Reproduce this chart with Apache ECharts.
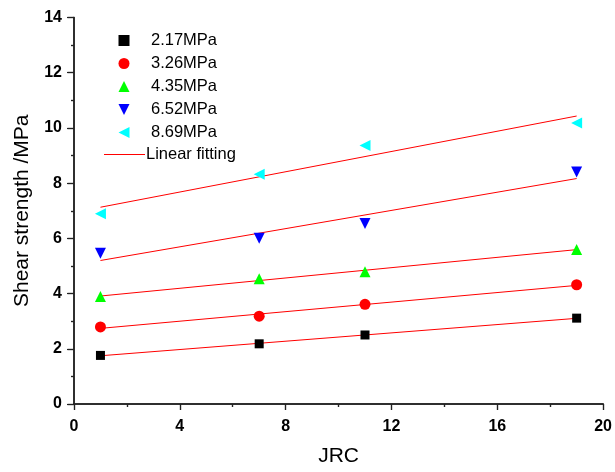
<!DOCTYPE html>
<html>
<head>
<meta charset="utf-8">
<script src="https://cdn.jsdelivr.net/npm/echarts@6/dist/echarts.min.js"></script>
<style>
  html, body { margin: 0; padding: 0; background: #fff; }
  #chart { width: 615px; height: 472px; }
</style>
</head>
<body>
<div id="chart"></div>
<script>
// JRC values tested
const jrc = [1, 7, 11, 19];

// Shear strength (MPa) under each normal stress
const s217 = [1.76, 2.18, 2.50, 3.11];
const s326 = [2.79, 3.18, 3.61, 4.32];
const s435 = [3.89, 4.54, 4.79, 5.60];
const s652 = [5.46, 6.00, 6.54, 8.40];
const s869 = [6.89, 8.32, 9.36, 10.18];

const seriesNames = ['2.17MPa', '3.26MPa', '4.35MPa', '6.52MPa', '8.69MPa'];
const fitName = 'Linear fitting';
const xTicks = [0, 4, 8, 12, 16, 20];
const yTicks = [0, 2, 4, 6, 8, 10, 12, 14];

const groups = [s217, s326, s435, s652, s869];
const markers = [
  { symbol: 'rect', size: 9, rotate: 0, color: '#000000', icon: 'rect' },
  { symbol: 'circle', size: 11, rotate: 0, color: '#ff0000', icon: 'circle' },
  { symbol: 'triangle', size: 11, rotate: 0, color: '#00ff00', icon: 'triangle' },
  { symbol: 'triangle', size: 11, rotate: 180, color: '#0000ff', icon: 'path://M0,0L10,0L5,10Z' },
  { symbol: 'triangle', size: 11, rotate: 90, color: '#00ffff', icon: 'path://M10,0L10,10L0,5Z' }
];

// least-squares line through each group's points
function fitLine(xs, ys) {
  const n = xs.length;
  const mx = xs.reduce((a, b) => a + b, 0) / n;
  const my = ys.reduce((a, b) => a + b, 0) / n;
  let sxy = 0, sxx = 0;
  for (let i = 0; i < n; i++) {
    sxy += (xs[i] - mx) * (ys[i] - my);
    sxx += (xs[i] - mx) * (xs[i] - mx);
  }
  const k = sxy / sxx;
  const b = my - k * mx;
  const x0 = Math.min(...xs), x1 = Math.max(...xs);
  return [[x0, k * x0 + b], [x1, k * x1 + b]];
}

const series = [];
groups.forEach((ys, i) => {
  series.push({
    name: seriesNames[i],
    type: 'scatter',
    symbol: markers[i].symbol,
    symbolSize: markers[i].size,
    symbolRotate: markers[i].rotate,
    itemStyle: { color: markers[i].color, opacity: 1 },
    data: jrc.map((x, j) => [x, ys[j]]),
    z: 3
  });
});
groups.forEach((ys) => {
  series.push({
    name: fitName,
    type: 'line',
    symbol: 'none',
    lineStyle: { color: '#ff0000', width: 1 },
    itemStyle: { color: '#ff0000' },
    data: fitLine(jrc, ys),
    z: 2
  });
});

const fontFamily = 'Liberation Sans, Arial, sans-serif';
const axisColor = '#222';
const tickFont = { color: '#000', fontFamily: fontFamily, fontWeight: 'bold', fontSize: 16 };
const nameFont = { color: '#000', fontFamily: fontFamily, fontSize: 21 };
const legendFont = { color: '#000', fontFamily: fontFamily, fontSize: 16.5, lineHeight: 16 };

const chart = echarts.init(document.getElementById('chart'), null, { renderer: 'canvas' });
chart.setOption({
  animation: false,
  backgroundColor: '#fff',
  grid: { left: 74, right: 11, top: 17.5, bottom: 62.5, containLabel: false },
  legend: [
    {
      data: seriesNames.map((n, i) => ({ name: n, icon: markers[i].icon })),
      orient: 'vertical',
      left: 118.5,
      top: 32,
      itemWidth: 11,
      itemHeight: 11,
      itemGap: 6.0,
      padding: 0,
      textStyle: Object.assign({ padding: [0, 0, 0, 16.5] }, legendFont)
    },
    {
      data: [{ name: fitName, icon: 'rect' }],
      orient: 'vertical',
      left: 104,
      top: 146,
      itemWidth: 41,
      itemHeight: 1,
      padding: 0,
      itemStyle: { color: '#ff0000' },
      textStyle: Object.assign({ padding: [0, 0, 0, -4] }, legendFont)
    }
  ],
  xAxis: [
    {
      type: 'value',
      position: 'bottom',
      min: xTicks[0],
      max: xTicks[xTicks.length - 1],
      interval: 4,
      name: 'JRC',
      nameLocation: 'middle',
      nameGap: 42,
      nameTextStyle: nameFont,
      axisLine: { show: true, lineStyle: { color: axisColor, width: 1.5 } },
      axisTick: { show: true, inside: false, length: 6, lineStyle: { color: axisColor, width: 1.2 } },
      minorTick: { show: true, splitNumber: 2, length: 3, lineStyle: { color: axisColor, width: 1.2 } },
      axisLabel: Object.assign({ margin: 15 }, tickFont),
      splitLine: { show: false }
    },
    {
      type: 'value',
      position: 'top',
      min: xTicks[0],
      max: xTicks[xTicks.length - 1],
      interval: 4,
      axisLine: { show: true, lineStyle: { color: axisColor, width: 1.5 } },
      axisTick: { show: true, inside: true, length: 6, lineStyle: { color: axisColor, width: 1.2 } },
      minorTick: { show: true, splitNumber: 2, length: 3, lineStyle: { color: axisColor, width: 1.2 } },
      axisLabel: { show: false },
      splitLine: { show: false }
    }
  ],
  yAxis: [
    {
      type: 'value',
      position: 'left',
      min: yTicks[0],
      max: yTicks[yTicks.length - 1],
      interval: 2,
      name: 'Shear strength /MPa',
      nameLocation: 'middle',
      nameGap: 41,
      nameTextStyle: nameFont,
      axisLine: { show: true, lineStyle: { color: axisColor, width: 1.5 } },
      axisTick: { show: true, inside: false, length: 6, lineStyle: { color: axisColor, width: 1.2 } },
      minorTick: { show: true, splitNumber: 2, length: 3, lineStyle: { color: axisColor, width: 1.2 } },
      axisLabel: Object.assign({ margin: 12 }, tickFont),
      splitLine: { show: false }
    },
    {
      type: 'value',
      position: 'right',
      min: yTicks[0],
      max: yTicks[yTicks.length - 1],
      interval: 2,
      axisLine: { show: true, lineStyle: { color: axisColor, width: 1.5 } },
      axisTick: { show: true, inside: true, length: 7, lineStyle: { color: axisColor, width: 1.2 } },
      minorTick: { show: true, splitNumber: 2, length: 3, lineStyle: { color: axisColor, width: 1.2 } },
      axisLabel: { show: false },
      splitLine: { show: false }
    }
  ],
  series: series
});
</script>
</body>
</html>
